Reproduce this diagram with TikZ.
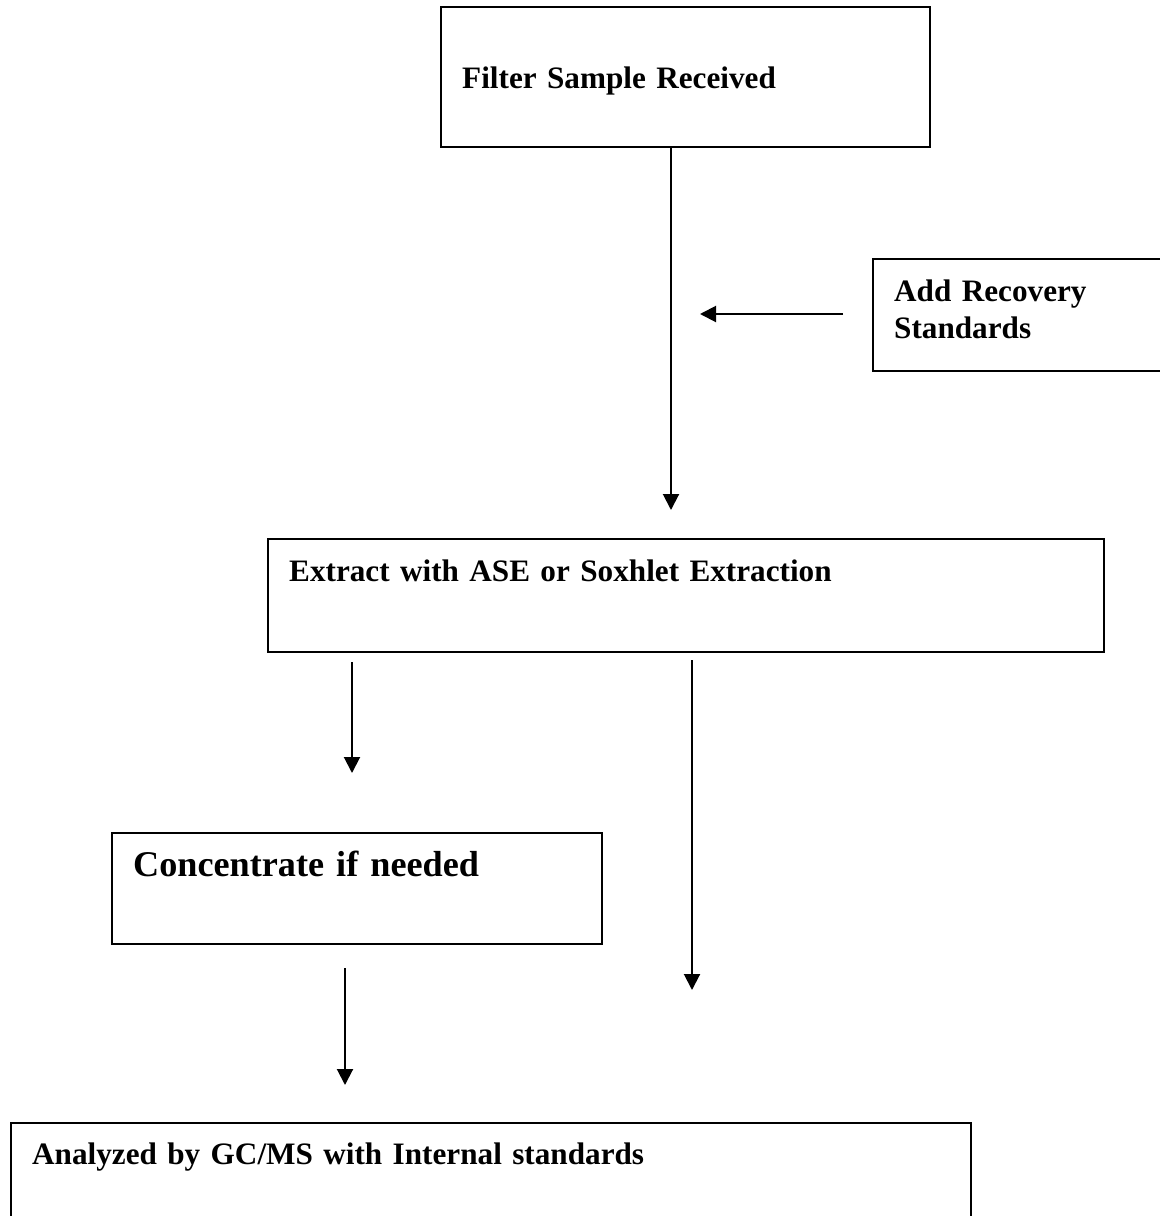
\documentclass[tikz,border=0pt]{standalone}
\usepackage{fontspec}
\setmainfont{Liberation Serif}
\usepackage{tikz}
\usetikzlibrary{arrows.meta,positioning,calc}

\begin{document}
\begin{tikzpicture}[x=0.5pt, y=-0.5pt,
    stepbox/.style={rectangle, draw, line width=1.2pt, anchor=north west,
                 align=left, inner xsep=10.5pt, inner ysep=0pt,
                 font=\fontsize{15.6}{18.5}\selectfont\bfseries},
    arr/.style={-{Triangle[length=8pt,width=8pt]}, line width=1pt},
  ]
    \useasboundingbox (0,0) rectangle (1160,1216);
    \clip (0,0) rectangle (1160,1216);

    \node[stepbox, text width=223.5pt, text height=40.5pt, text depth=29.5pt] (filt) at (440,6) {Filter Sample Received};
    \node[stepbox, text width=144pt, text height=21pt, text depth=35pt] (add) at (872,258) {Add Recovery\\Standards};
    \node[stepbox, text width=397pt, text height=21pt, text depth=35.5pt] (extr) at (267,538) {Extract with ASE or Soxhlet Extraction};
    \node[stepbox, text width=224pt, text height=21.5pt, text depth=34pt,
          font=\fontsize{18.1}{22}\selectfont\bfseries] (conc) at (111,832) {Concentrate if needed};
    \node[stepbox, text width=459pt, text height=20.5pt, text depth=60pt] (anal) at (10,1122) {Analyzed by GC/MS with Internal standards};

    % free ends of the connectors
    \coordinate (c1) at (671,510);
    \coordinate (c2s) at (843,314);
    \coordinate (c2) at (700,314);
    \coordinate (c3s) at (352,662);
    \coordinate (c3) at (352,773);
    \coordinate (c4s) at (692,660);
    \coordinate (c4) at (692,990);
    \coordinate (c5s) at (345,968);
    \coordinate (c5) at (345,1085);

    \draw[arr] (filt.south -| c1)--(c1);
    \draw[arr] (c2s)--(c2);
    \draw[arr] (c3s)--(c3);
    \draw[arr] (c4s)--(c4);
    \draw[arr] (c5s)--(c5);
  \end{tikzpicture}
\end{document}
